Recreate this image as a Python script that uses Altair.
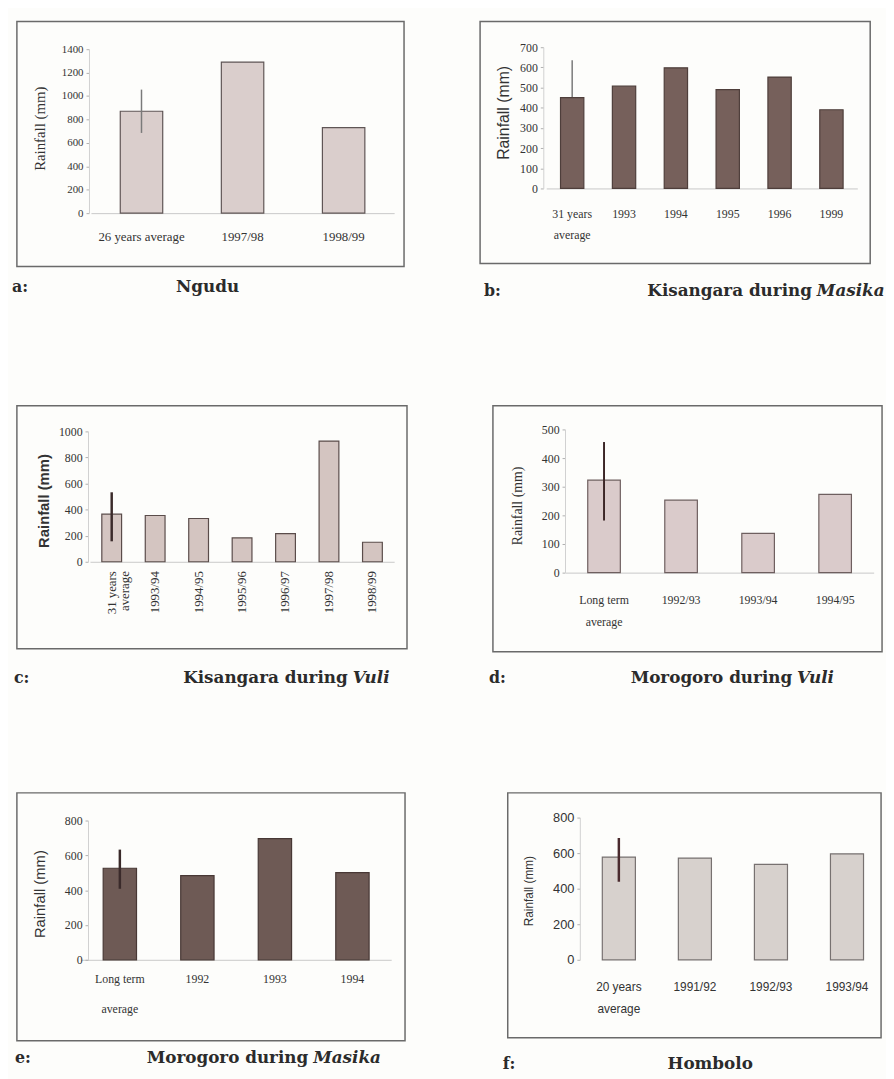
import altair as alt
import pandas as pd

# ---------------- data ----------------
a_cats = ["26 years average", "1997/98", "1998/99"]
a_vals = [870, 1290, 730]
a_err = [685, 1055]

b_cats = ["31 years average", "1993", "1994", "1995", "1996", "1999"]
b_vals = [450, 507, 598, 490, 552, 390]
b_err = [265, 635]

c_cats = ["31 years average", "1993/94", "1994/95", "1995/96", "1996/97", "1997/98", "1998/99"]
c_vals = [365, 355, 332, 183, 216, 926, 150]
c_err = [157, 533]

d_cats = ["Long term average", "1992/93", "1993/94", "1994/95"]
d_vals = [323, 253, 137, 273]
d_err = [182, 456]

e_cats = ["Long term average", "1992", "1993", "1994"]
e_vals = [526, 484, 696, 501]
e_err = [408, 633]

f_cats = ["20 years average", "1991/92", "1992/93", "1993/94"]
f_vals = [578, 572, 537, 596]
f_err = [439, 685]

y_title = "Rainfall (mm)"
letters = ["a:", "b:", "c:", "d:", "e:", "f:"]
titles = [
    [("Ngudu", False)],
    [("Kisangara during", False), ("Masika", True)],
    [("Kisangara during", False), ("Vuli", True)],
    [("Morogoro during", False), ("Vuli", True)],
    [("Morogoro during", False), ("Masika", True)],
    [("Hombolo", False)],
]

SERIF = "Liberation Serif"
SANS = "Liberation Sans"
CAP = "DejaVu Serif"


def panel(cats, vals, err, letter, title, c):
    W, H = c["W"], c["H"]
    df = pd.DataFrame({"cat": cats, "val": vals})
    edf = pd.DataFrame({"cat": [cats[0]], "lo": [err[0]], "hi": [err[1]]})

    xscale = alt.Scale(domain=cats, range=c["xr"], paddingInner=c["pi"],
                       paddingOuter=c["pi"] / 2)
    yscale = alt.Scale(domain=[0, c["ymax"]], range=c["yr"], nice=False)

    if c["multi"]:
        lab = "indexof(datum.value, ' average') > 0 ? [replace(datum.value, ' average', ''), 'average'] : datum.value"
    else:
        lab = "datum.value"

    xaxis = alt.Axis(
        title=None, orient="bottom", offset=c["yr"][0] - H, ticks=False,
        domain=c.get("xdomain", True), domainColor="#c8c8c8", domainWidth=1,
        labelAngle=c.get("angle", 0), labelAlign=c.get("lalign", "center"),
        labelBaseline=c.get("lbase", "top"), labelPadding=c["xpad"],
        labelLineHeight=c["lh"], labelFont=c["xfont"], labelFontSize=c["xfs"],
        labelColor="#333333", labelExpr=lab, labelOverlap=False, labelLimit=0,
    )
    yaxis = alt.Axis(
        title=y_title, orient="left", offset=-c["yax"], grid=False,
        values=list(range(0, c["ymax"] + 1, c["ystep"])), format="d",
        tickSize=3, tickColor="#b0b0b0", domain=True, domainColor="#d0d0d0",
        labelPadding=3, labelFont=c["tfont"], labelFontSize=c["tfs"],
        labelColor="#333333",
        titleFont=c["ytfont"], titleFontSize=c["ytfs"],
        titleFontWeight=c.get("ytw", "normal"), titleColor="#333333",
        titleX=c["tx"] - c["yax"], titleY=c["ty"], titleAngle=270,
        titleAlign="center", titleBaseline="middle",
    )

    bars = alt.Chart(df).mark_bar(
        fill=c["fill"], stroke=c["stroke"], strokeWidth=1.2
    ).encode(
        x=alt.X("cat:N", scale=xscale, axis=xaxis),
        y=alt.Y("val:Q", scale=yscale, axis=yaxis),
    )
    rule = alt.Chart(edf).mark_rule(
        color=c["ecol"], strokeWidth=c["ew"]
    ).encode(
        x=alt.X("cat:N", scale=xscale, axis=xaxis),
        y=alt.Y("lo:Q", scale=yscale, axis=yaxis),
        y2="hi:Q",
    )

    layers = [rule, bars] if c.get("behind", False) else [bars, rule]
    ly = H + c["cy"]
    layers.append(
        alt.Chart(pd.DataFrame({"t": [letter]})).mark_text(
            font=CAP, fontWeight="bold", fontSize=16, align="left",
            baseline="middle", color="#2b2b2b"
        ).encode(text="t:N", x=alt.value(c["lx"]), y=alt.value(ly))
    )
    if len(title) == 1:
        layers.append(
            alt.Chart(pd.DataFrame({"t": [title[0][0]]})).mark_text(
                font=CAP, fontWeight="bold", fontSize=17, align="center",
                baseline="middle", color="#2b2b2b"
            ).encode(text="t:N", x=alt.value(c["cx"]), y=alt.value(ly))
        )
    else:
        layers.append(
            alt.Chart(pd.DataFrame({"t": [title[0][0]]})).mark_text(
                font=CAP, fontWeight="bold", fontSize=17, align="right",
                baseline="middle", color="#2b2b2b"
            ).encode(text="t:N", x=alt.value(c["cx"] - 2), y=alt.value(ly))
        )
        layers.append(
            alt.Chart(pd.DataFrame({"t": [title[1][0]]})).mark_text(
                font=CAP, fontWeight="bold", fontStyle="italic", fontSize=17,
                align="left", baseline="middle", color="#2b2b2b"
            ).encode(text="t:N", x=alt.value(c["cx"] + 3), y=alt.value(ly))
        )
    return alt.layer(*layers).properties(width=W, height=H)


cfg_a = dict(W=392, H=248, xr=[75, 382], pi=0.58, yr=[194, 28], ymax=1400, ystep=200,
             yax=73, tx=23, ty=108, fill="#dacecc", stroke="#5f5555", ecol="#7a7a7a", ew=1.5,
             tfont=SERIF, tfs=11, ytfont=SERIF, ytfs=15, xpad=18, lh=13, multi=False,
             xfont=SERIF, xfs=13, cy=21, lx=-5, cx=193)
cfg_b = dict(W=395, H=245, xr=[67, 382], pi=0.55, yr=[169, 26], ymax=700, ystep=100,
             yax=64, tx=24, ty=92, fill="#76605b", stroke="#4e3e3b", ecol="#7a7a7a", ew=1.5,
             behind=True,
             tfont=SERIF, tfs=12, ytfont=SANS, ytfs=16, xpad=20, lh=22, multi=True,
             xfont=SERIF, xfs=12, cy=28, lx=4, cx=338)
cfg_c = dict(W=395, H=246, xr=[74, 382], pi=0.545, yr=[158, 26], ymax=1000, ystep=200,
             yax=72, tx=27, ty=96, fill="#d4c5c1", stroke="#5a4c4a", ecol="#3a2a2a", ew=2.5,
             tfont=SERIF, tfs=12, ytfont=SANS, ytfs=15, ytw="bold", xpad=9, lh=14, multi=True,
             angle=270, lalign="right", lbase="middle",
             xfont=SERIF, xfs=13, cy=30, lx=-3, cx=337)
cfg_d = dict(W=394, H=249, xr=[73.5, 385.5], pi=0.577, yr=[169, 24], ymax=500, ystep=100,
             yax=73, tx=25, ty=101, fill="#dacbcb", stroke="#6e5f5f", ecol="#3b2626", ew=2,
             tfont=SERIF, tfs=12, ytfont=SERIF, ytfs=14, xpad=22, lh=23, multi=True,
             xfont=SERIF, xfs=12, cy=27, lx=-4, cx=305)
cfg_e = dict(W=393, H=251, xr=[65, 379], pi=0.57, yr=[169, 28], ymax=800, ystep=200,
             yax=72, tx=23, ty=102, fill="#6e5a55", stroke="#483835", ecol="#3a2a2a", ew=2.5,
             tfont=SERIF, tfs=12, ytfont=SANS, ytfs=15, xpad=14, lh=30, multi=True,
             xfont=SERIF, xfs=12, cy=17, lx=-2, cx=297)
cfg_f = dict(W=378, H=248, xr=[74, 382], pi=0.565, yr=[169, 25], ymax=800, ystep=200,
             yax=73, tx=21, ty=99, fill="#d7d1cd", stroke="#777170", ecol="#4a2a2e", ew=2.5,
             tfont=SANS, tfs=13, ytfont=SANS, ytfs=12, xpad=22, lh=22, multi=True, xdomain=False,
             xfont=SANS, xfs=12, cy=27, lx=-5, cx=205)

pa = panel(a_cats, a_vals, a_err, letters[0], titles[0], cfg_a)
pb = panel(b_cats, b_vals, b_err, letters[1], titles[1], cfg_b)
pc = panel(c_cats, c_vals, c_err, letters[2], titles[2], cfg_c)
pd_ = panel(d_cats, d_vals, d_err, letters[3], titles[3], cfg_d)
pe = panel(e_cats, e_vals, e_err, letters[4], titles[4], cfg_e)
pf = panel(f_cats, f_vals, f_err, letters[5], titles[5], cfg_f)

chart = alt.vconcat(
    alt.hconcat(pa, pb, spacing=75),
    alt.hconcat(pc, pd_, spacing=81),
    alt.hconcat(pe, pf, spacing=97),
    spacing=106,
).properties(
    padding={"left": 3, "top": 6, "right": 0, "bottom": 0},
    background="#fdfdfb",
).configure_view(
    stroke="#6a6a6a", strokeWidth=1.5
)

chart.save("out.html", embed_options={"renderer": "svg", "actions": False})
